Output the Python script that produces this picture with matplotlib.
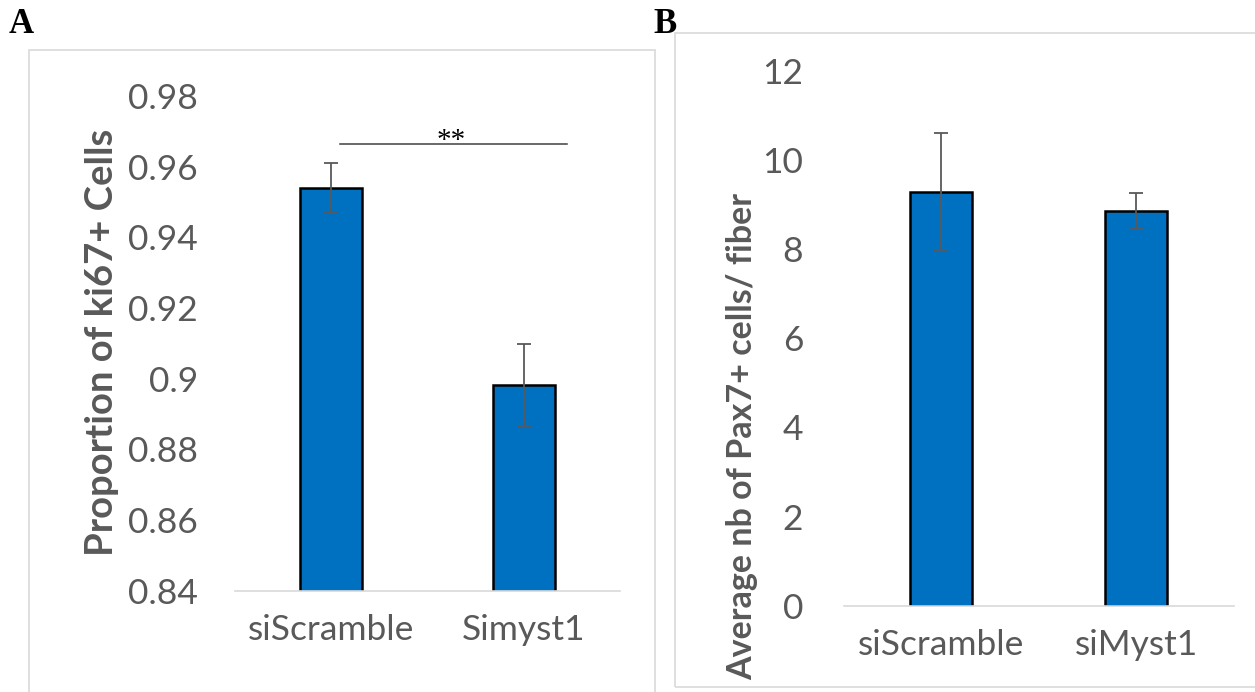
import numpy as np
import matplotlib
matplotlib.use('Agg')
import matplotlib.pyplot as plt
from matplotlib.patches import Rectangle

# panel A: proportion of ki67+ cells
cats_a = ['siScramble', 'Simyst1']
vals_a = [0.9539, 0.8981]
err_a = [0.0071, 0.0116]
ticks_a = [0.84, 0.86, 0.88, 0.9, 0.92, 0.94, 0.96, 0.98]
tick_labels_a = ['0.84', '0.86', '0.88', '0.9', '0.92', '0.94', '0.96', '0.98']

# panel B: Pax7+ cells per fiber
cats_b = ['siScramble', 'siMyst1']
vals_b = [9.29, 8.85]
err_b = [1.31, 0.41]
ticks_b = [0, 2, 4, 6, 8, 10, 12]

W, H = 1255, 692
GREY = '#595959'
BLUE = '#0070C0'
FONT = 'Lato'

fig = plt.figure(figsize=(W / 100, H / 100), dpi=100)


def px_axes(x0, y0, x1, y1):
    # pixel box (top-left origin) -> figure axes
    return fig.add_axes([x0 / W, 1 - y1 / H, (x1 - x0) / W, (y1 - y0) / H])


def frame(x0, y0, x1, y1):
    fig.patches.append(Rectangle((x0 / W, 1 - y1 / H), (x1 - x0) / W, (y1 - y0) / H,
                                 transform=fig.transFigure, fill=False,
                                 edgecolor='#d9d9d9', linewidth=1.2))


def style(ax, ypad):
    for s in ['left', 'right', 'top']:
        ax.spines[s].set_visible(False)
    ax.spines['bottom'].set_color('#d9d9d9')
    ax.spines['bottom'].set_linewidth(1.2)
    ax.tick_params(length=0, colors=GREY, labelsize=25.5)
    ax.tick_params(axis='y', pad=ypad)
    ax.tick_params(axis='x', pad=17)
    for lab in ax.get_xticklabels() + ax.get_yticklabels():
        lab.set_fontfamily(FONT)
    ax.set_xlim(-0.5, 1.5)


frame(28.6, 50, 654.5, 720)
frame(674.5, 32.7, 1290, 686.7)

# ---- A ----
axa = px_axes(235, 96, 620, 590.7)
xa = np.arange(len(cats_a))
axa.bar(xa, vals_a, width=0.322, color=BLUE, edgecolor='black', linewidth=1.8, zorder=2)
axa.errorbar(xa, vals_a, yerr=err_a, fmt='none', ecolor=GREY, elinewidth=1.3,
             capsize=5, capthick=1.3, zorder=3)
axa.set_ylim(0.84, 0.98)
axa.set_yticks(ticks_a)
axa.set_yticklabels(tick_labels_a)
axa.set_xticks(xa)
axa.set_xticklabels(cats_a)
style(axa, 26.6)
axa.plot([0.046, 1.225], [0.9664, 0.9664], color='#404040', lw=1.1, clip_on=False)
axa.text(0.621, 0.9653, '**', ha='center', va='baseline', fontsize=21,
         family='Liberation Serif', color='black')
fig.text(101.7 / W, 1 - 342 / H, 'Proportion of ki67+ Cells', rotation=90,
         ha='center', va='center', fontsize=27.5, fontweight='bold', color=GREY,
         family=FONT)

# ---- B ----
axb = px_axes(844, 70.7, 1233.5, 605.7)
xb = np.arange(len(cats_b))
axb.bar(xb, vals_b, width=0.318, color=BLUE, edgecolor='black', linewidth=1.8, zorder=2)
axb.errorbar(xb, vals_b, yerr=err_b, fmt='none', ecolor=GREY, elinewidth=1.3,
             capsize=5, capthick=1.3, zorder=3)
axb.set_ylim(0, 12)
axb.set_yticks(ticks_b)
axb.set_xticks(xb)
axb.set_xticklabels(cats_b)
style(axb, 29.5)
fig.text(741.7 / W, 1 - 436 / H, 'Average nb of Pax7+ cells/ fiber', rotation=90,
         ha='center', va='center', fontsize=24.5, fontweight='bold', color=GREY,
         family=FONT)

# panel letters
fig.text(8.7 / W, 1 - 33 / H, 'A', fontsize=25, fontweight='bold',
         family='Liberation Serif', ha='left', va='baseline')
fig.text(653 / W, 1 - 33 / H, 'B', fontsize=25, fontweight='bold',
         family='Liberation Serif', ha='left', va='baseline')

fig.savefig('out.png', dpi=100)
